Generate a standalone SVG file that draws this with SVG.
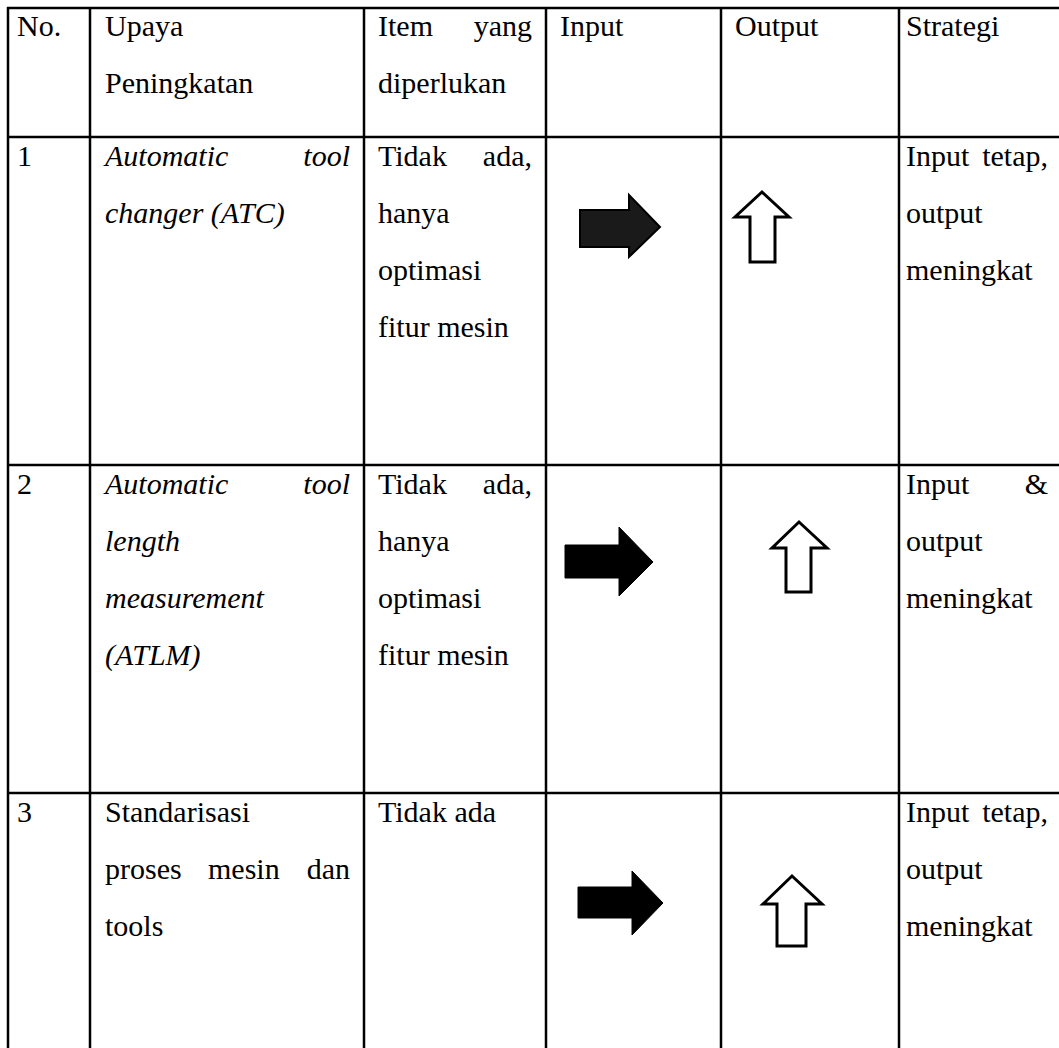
<svg xmlns="http://www.w3.org/2000/svg" width="1059" height="1048" viewBox="0 0 1059 1048">
<style>
text{font-family:"Liberation Serif","Times New Roman",serif;font-size:30px;fill:#000}
.it{font-style:italic}
.e{text-anchor:end}
.grid line{stroke:#000;stroke-width:2.5}
.in{fill:#000;stroke:#000;stroke-width:1}
.out{fill:#fff;stroke:#000;stroke-width:3;stroke-linejoin:miter}
</style>
<rect width="1059" height="1048" fill="#fff"/>
<g id="grid" class="grid">
<line x1="7" y1="8" x2="1059" y2="8"/>
<line x1="7" y1="137" x2="1059" y2="137"/>
<line x1="7" y1="465" x2="1059" y2="465"/>
<line x1="7" y1="793" x2="1059" y2="793"/>
<line x1="8" y1="7" x2="8" y2="1048"/>
<line x1="90" y1="7" x2="90" y2="1048"/>
<line x1="364" y1="7" x2="364" y2="1048"/>
<line x1="546" y1="7" x2="546" y2="1048"/>
<line x1="721" y1="7" x2="721" y2="1048"/>
<line x1="899" y1="7" x2="899" y2="1048"/>
</g>
<g id="header">
<text x="17" y="36">No.</text>
<text x="105" y="36">Upaya</text>
<text x="105" y="93">Peningkatan</text>
<text x="378" y="36">Item</text>
<text x="532" y="36" class="e">yang</text>
<text x="378" y="93">diperlukan</text>
<text x="560" y="36">Input</text>
<text x="735" y="36">Output</text>
<text x="906" y="36">Strategi</text>
</g>
<g id="row1">
<text x="17" y="166">1</text>
<text x="105" y="166" class="it">Automatic</text>
<text x="350" y="166" class="it e">tool</text>
<text x="105" y="223" class="it">changer (ATC)</text>
<text x="378" y="166">Tidak</text>
<text x="532" y="166" class="e">ada,</text>
<text x="378" y="223">hanya</text>
<text x="378" y="280">optimasi</text>
<text x="378" y="337">fitur mesin</text>
<text x="906" y="166">Input</text>
<text x="1048" y="166" class="e">tetap,</text>
<text x="906" y="223">output</text>
<text x="906" y="280">meningkat</text>
</g>
<g id="row2">
<text x="17" y="494">2</text>
<text x="105" y="494" class="it">Automatic</text>
<text x="350" y="494" class="it e">tool</text>
<text x="105" y="551" class="it">length</text>
<text x="105" y="608" class="it">measurement</text>
<text x="105" y="665" class="it">(ATLM)</text>
<text x="378" y="494">Tidak</text>
<text x="532" y="494" class="e">ada,</text>
<text x="378" y="551">hanya</text>
<text x="378" y="608">optimasi</text>
<text x="378" y="665">fitur mesin</text>
<text x="906" y="494">Input</text>
<text x="1048" y="494" class="e">&amp;</text>
<text x="906" y="551">output</text>
<text x="906" y="608">meningkat</text>
</g>
<g id="row3">
<text x="17" y="822">3</text>
<text x="105" y="822">Standarisasi</text>
<text x="105" y="879">proses</text>
<text x="208" y="879">mesin</text>
<text x="350" y="879" class="e">dan</text>
<text x="105" y="936">tools</text>
<text x="378" y="822">Tidak ada</text>
<text x="906" y="822">Input</text>
<text x="1048" y="822" class="e">tetap,</text>
<text x="906" y="879">output</text>
<text x="906" y="936">meningkat</text>
</g>
<g id="connectors">
<path class="in" style="fill:#1a1a1a;stroke-width:2" d="M580,210 H629 V195 L660,227 L629,257 V247 H580 Z"/>
<path class="in" d="M565,545 H619 V527 L653,562 L619,596 V578 H565 Z"/>
<path class="in" d="M578,887 H632 V871 L663,903 L632,935 V918 H578 Z"/>
<path class="out" d="M762,192 L789,217 H775 V262 H750 V217 H735 Z"/>
<path class="out" d="M799,522 L827,548 H811 V592 H786 V548 H772 Z"/>
<path class="out" d="M792,876 L822,904 H806 V946 H777 V904 H763 Z"/>
</g>
</svg>
